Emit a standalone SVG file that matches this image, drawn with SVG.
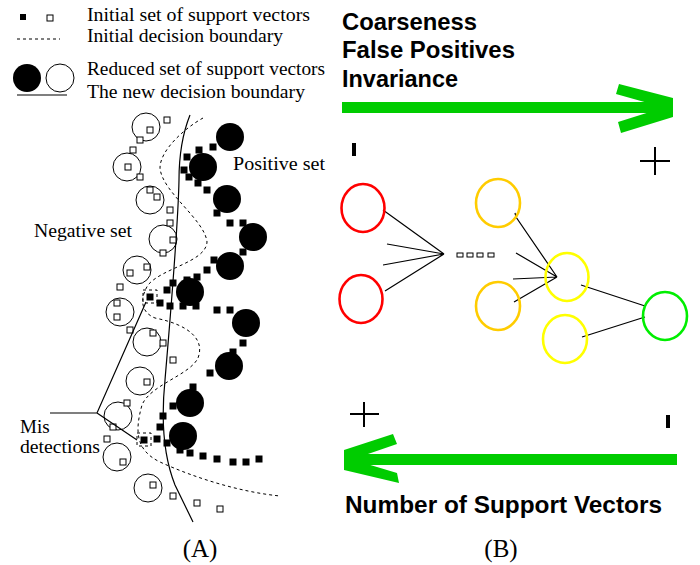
<svg xmlns="http://www.w3.org/2000/svg" width="700" height="565" viewBox="0 0 700 565">
<style>
.serif{font-family:"Liberation Serif","Times New Roman",serif;font-size:19px;fill:#000}
.big{font-size:25px}
.bold{font-family:"Liberation Sans",Arial,sans-serif;font-weight:bold;font-size:24px;fill:#000}
.os{fill:#fff;stroke:#000;stroke-width:1}
.fs{fill:#000}
.oc{fill:none;stroke:#000;stroke-width:1}
.fc{fill:#000}
.dash{fill:none;stroke:#000;stroke-width:1;stroke-dasharray:3,3}
.solid{fill:none;stroke:#000;stroke-width:1.2}
.link{fill:none;stroke:#000;stroke-width:1.2}
.node{fill:none;stroke-width:2.6}
.arrow{fill:#00cc00}
</style>
<rect width="700" height="565" fill="#fff"/>

<g id="legend">
<rect x="20" y="14" width="6" height="6" class="fs"/>
<rect x="47" y="15" width="6" height="6" class="os"/>
<line x1="17" y1="39" x2="60" y2="39" class="dash" stroke-dasharray="2,2"/>
<circle cx="27" cy="78" r="14" class="fc"/>
<circle cx="60" cy="78" r="14" class="oc"/>
<line x1="17" y1="95" x2="67" y2="95" class="solid"/>
<text x="87" y="21" class="serif" textLength="223" lengthAdjust="spacingAndGlyphs">Initial set of support vectors</text>
<text x="87" y="42" class="serif" textLength="196" lengthAdjust="spacingAndGlyphs">Initial decision boundary</text>
<text x="87" y="75" class="serif" textLength="238" lengthAdjust="spacingAndGlyphs">Reduced set of support vectors</text>
<text x="87" y="98" class="serif" textLength="218" lengthAdjust="spacingAndGlyphs">The new decision boundary</text>
</g>

<g id="panelA">
<g id="boundaries">
<path class="dash" d="M203,118 C185,128 160,150 160,168 C162,192 205,220 207,242 C206,262 162,268 148,285 C140,298 140,312 155,318 C190,325 205,340 198,358 C190,375 150,385 142,405 C135,430 135,450 160,462 C195,478 240,492 280,496"/>
<path class="solid" d="M190,115 C182,135 179,155 179,180 C178,230 170,320 165,380 C161,420 163,455 175,485 L193,522"/>
<rect x="143" y="290" width="14" height="13" class="dash" stroke-dasharray="3,2"/>
<rect x="137" y="433" width="14" height="13" class="dash" stroke-dasharray="3,2"/>
</g>
<g id="negative-circles">
<circle cx="146" cy="127" r="14" class="oc"/>
<circle cx="127" cy="167" r="14" class="oc"/>
<circle cx="150" cy="200" r="14" class="oc"/>
<circle cx="163" cy="239" r="14" class="oc"/>
<circle cx="137" cy="270" r="14" class="oc"/>
<circle cx="120" cy="312" r="14" class="oc"/>
<circle cx="147" cy="342" r="14" class="oc"/>
<circle cx="140" cy="381" r="14" class="oc"/>
<circle cx="118" cy="416" r="14" class="oc"/>
<circle cx="117" cy="457" r="14" class="oc"/>
<circle cx="148" cy="488" r="14" class="oc"/>
</g>
<g id="negative-squares">
<rect x="164" y="117" width="6" height="6" class="os"/>
<rect x="147" y="127" width="6" height="6" class="os"/>
<rect x="137" y="137" width="6" height="6" class="os"/>
<rect x="130" y="147" width="6" height="6" class="os"/>
<rect x="125" y="164" width="6" height="6" class="os"/>
<rect x="137" y="174" width="6" height="6" class="os"/>
<rect x="147" y="187" width="6" height="6" class="os"/>
<rect x="154" y="194" width="6" height="6" class="os"/>
<rect x="167" y="207" width="6" height="6" class="os"/>
<rect x="167" y="220" width="6" height="6" class="os"/>
<rect x="170" y="237" width="6" height="6" class="os"/>
<rect x="160" y="250" width="6" height="6" class="os"/>
<rect x="144" y="264" width="6" height="6" class="os"/>
<rect x="127" y="270" width="6" height="6" class="os"/>
<rect x="117" y="284" width="6" height="6" class="os"/>
<rect x="114" y="300" width="6" height="6" class="os"/>
<rect x="114" y="314" width="6" height="6" class="os"/>
<rect x="127" y="327" width="6" height="6" class="os"/>
<rect x="150" y="330" width="6" height="6" class="os"/>
<rect x="160" y="340" width="6" height="6" class="os"/>
<rect x="170" y="357" width="6" height="6" class="os"/>
<rect x="144" y="379" width="6" height="6" class="os"/>
<rect x="124" y="400" width="6" height="6" class="os"/>
<rect x="110" y="424" width="6" height="6" class="os"/>
<rect x="104" y="436" width="6" height="6" class="os"/>
<rect x="120" y="459" width="6" height="6" class="os"/>
<rect x="150" y="482" width="6" height="6" class="os"/>
<rect x="170" y="493" width="6" height="6" class="os"/>
<rect x="194" y="500" width="6" height="6" class="os"/>
<rect x="217" y="506" width="6" height="6" class="os"/>
</g>
<g id="positive-circles">
<circle cx="230" cy="137" r="14" class="fc"/>
<circle cx="203" cy="167" r="14" class="fc"/>
<circle cx="227" cy="199" r="14" class="fc"/>
<circle cx="253" cy="237" r="14" class="fc"/>
<circle cx="230" cy="266" r="14" class="fc"/>
<circle cx="190" cy="292" r="14" class="fc"/>
<circle cx="246" cy="323" r="14" class="fc"/>
<circle cx="229" cy="366" r="14" class="fc"/>
<circle cx="190" cy="403" r="14" class="fc"/>
<circle cx="183" cy="436" r="14" class="fc"/>
</g>
<g id="positive-squares">
<rect x="209.5" y="143.5" width="7" height="7" class="fs"/>
<rect x="195.5" y="146.5" width="7" height="7" class="fs"/>
<rect x="183.5" y="153.5" width="7" height="7" class="fs"/>
<rect x="180.5" y="166.5" width="7" height="7" class="fs"/>
<rect x="185.5" y="173.5" width="7" height="7" class="fs"/>
<rect x="194.5" y="179.5" width="7" height="7" class="fs"/>
<rect x="203.5" y="186.5" width="7" height="7" class="fs"/>
<rect x="213.5" y="209.5" width="7" height="7" class="fs"/>
<rect x="226.5" y="219.5" width="7" height="7" class="fs"/>
<rect x="239.5" y="219.5" width="7" height="7" class="fs"/>
<rect x="239.5" y="248.5" width="7" height="7" class="fs"/>
<rect x="210.5" y="256.5" width="7" height="7" class="fs"/>
<rect x="203.5" y="266.5" width="7" height="7" class="fs"/>
<rect x="193.5" y="273.5" width="7" height="7" class="fs"/>
<rect x="183.5" y="276.5" width="7" height="7" class="fs"/>
<rect x="169.5" y="279.5" width="7" height="7" class="fs"/>
<rect x="163.5" y="286.5" width="7" height="7" class="fs"/>
<rect x="146.5" y="293.5" width="7" height="7" class="fs"/>
<rect x="156.5" y="299.5" width="7" height="7" class="fs"/>
<rect x="166.5" y="302.5" width="7" height="7" class="fs"/>
<rect x="179.5" y="302.5" width="7" height="7" class="fs"/>
<rect x="192.5" y="302.5" width="7" height="7" class="fs"/>
<rect x="213.5" y="306.5" width="7" height="7" class="fs"/>
<rect x="226.5" y="306.5" width="7" height="7" class="fs"/>
<rect x="239.5" y="339.5" width="7" height="7" class="fs"/>
<rect x="229.5" y="348.5" width="7" height="7" class="fs"/>
<rect x="206.5" y="369.5" width="7" height="7" class="fs"/>
<rect x="189.5" y="383.5" width="7" height="7" class="fs"/>
<rect x="169.5" y="402.5" width="7" height="7" class="fs"/>
<rect x="159.5" y="412.5" width="7" height="7" class="fs"/>
<rect x="156.5" y="423.5" width="7" height="7" class="fs"/>
<rect x="140.5" y="436.5" width="7" height="7" class="fs"/>
<rect x="153.5" y="435.5" width="7" height="7" class="fs"/>
<rect x="163.5" y="439.5" width="7" height="7" class="fs"/>
<rect x="176.5" y="446.5" width="7" height="7" class="fs"/>
<rect x="186.5" y="449.5" width="7" height="7" class="fs"/>
<rect x="199.5" y="452.5" width="7" height="7" class="fs"/>
<rect x="213.5" y="455.5" width="7" height="7" class="fs"/>
<rect x="229.5" y="458.5" width="7" height="7" class="fs"/>
<rect x="242.5" y="458.5" width="7" height="7" class="fs"/>
<rect x="255.5" y="455.5" width="7" height="7" class="fs"/>
</g>
<g id="mis-pointer">
<path class="solid" d="M50,413 H97 L146,302 M97,413 L137,440"/>
</g>
<text x="233" y="170" class="serif" textLength="92" lengthAdjust="spacingAndGlyphs">Positive set</text>
<text x="34" y="237" class="serif" textLength="98" lengthAdjust="spacingAndGlyphs">Negative set</text>
<text x="20" y="433" class="serif">Mis</text>
<text x="20" y="453" class="serif" textLength="80" lengthAdjust="spacingAndGlyphs">detections</text>
<text x="200" y="557" class="serif big" text-anchor="middle">(A)</text>
</g>

<g id="panelB">
<g id="labels">
<text x="342" y="30" class="bold" textLength="135" lengthAdjust="spacingAndGlyphs">Coarseness</text>
<text x="342" y="58" class="bold" textLength="173" lengthAdjust="spacingAndGlyphs">False Positives</text>
<text x="342" y="87" class="bold" textLength="116" lengthAdjust="spacingAndGlyphs">Invariance</text>
<text x="345" y="513" class="bold" textLength="317" lengthAdjust="spacingAndGlyphs">Number of Support Vectors</text>
<text x="501" y="557" class="serif big" text-anchor="middle">(B)</text>
</g>
<g id="arrow-top">
<rect x="342" y="102" width="322" height="11" class="arrow"/>
<polygon class="arrow" points="619,84 673,98 673,117 621,133 618,122 664,107.5 616,94"/>
</g>
<g id="arrow-bottom">
<rect x="350" y="454" width="327" height="11" class="arrow"/>
<polygon class="arrow" points="344,450 393,434 397,444 352,459.5 397,473 399,483 344,470"/>
</g>
<g id="signs">
<rect x="352" y="143" width="4" height="13" fill="#000"/>
<path d="M640,161 H670 M655,147 V175" stroke="#000" stroke-width="2" fill="none"/>
<path d="M350,414 H379 M364,402 V427" stroke="#000" stroke-width="2" fill="none"/>
<rect x="666" y="415" width="4" height="13" fill="#000"/>
</g>
<g id="connectors">
<path class="link" d="M383,210 L444,254 M387,244 L444,254 M383,265 L444,254 M385,291 L444,254"/>
<path class="link" d="M515,213 L516,217 L557,277 M516,253 L557,277 M513,279 L557,277 M514,302 L557,277"/>
<path class="link" d="M581,285 L645,306 M582,337 L645,317"/>
<g fill="#fff" stroke="#000" stroke-width="1">
<rect x="457" y="253" width="6" height="4"/>
<rect x="467" y="253" width="6" height="4"/>
<rect x="477" y="253" width="6" height="4"/>
<rect x="488" y="253" width="6" height="4"/>
</g>
</g>
<g id="node-red1"><ellipse cx="363" cy="208" rx="21.5" ry="24" class="node" stroke="#ff0000"/></g>
<g id="node-red2"><ellipse cx="361" cy="299" rx="21.5" ry="24" class="node" stroke="#ff0000"/></g>
<g id="node-orange1"><ellipse cx="498" cy="203" rx="22" ry="24" class="node" stroke="#ffcc00"/></g>
<g id="node-orange2"><ellipse cx="498" cy="306" rx="22" ry="24" class="node" stroke="#ffcc00"/></g>
<g id="node-yellow1"><ellipse cx="567" cy="277" rx="21.5" ry="24" class="node" stroke="#ffff00"/></g>
<g id="node-yellow2"><ellipse cx="565" cy="339" rx="22" ry="24" class="node" stroke="#ffff00"/></g>
<g id="node-green"><ellipse cx="665" cy="316" rx="22" ry="24" class="node" stroke="#00ee00"/></g>
</g>
</svg>
